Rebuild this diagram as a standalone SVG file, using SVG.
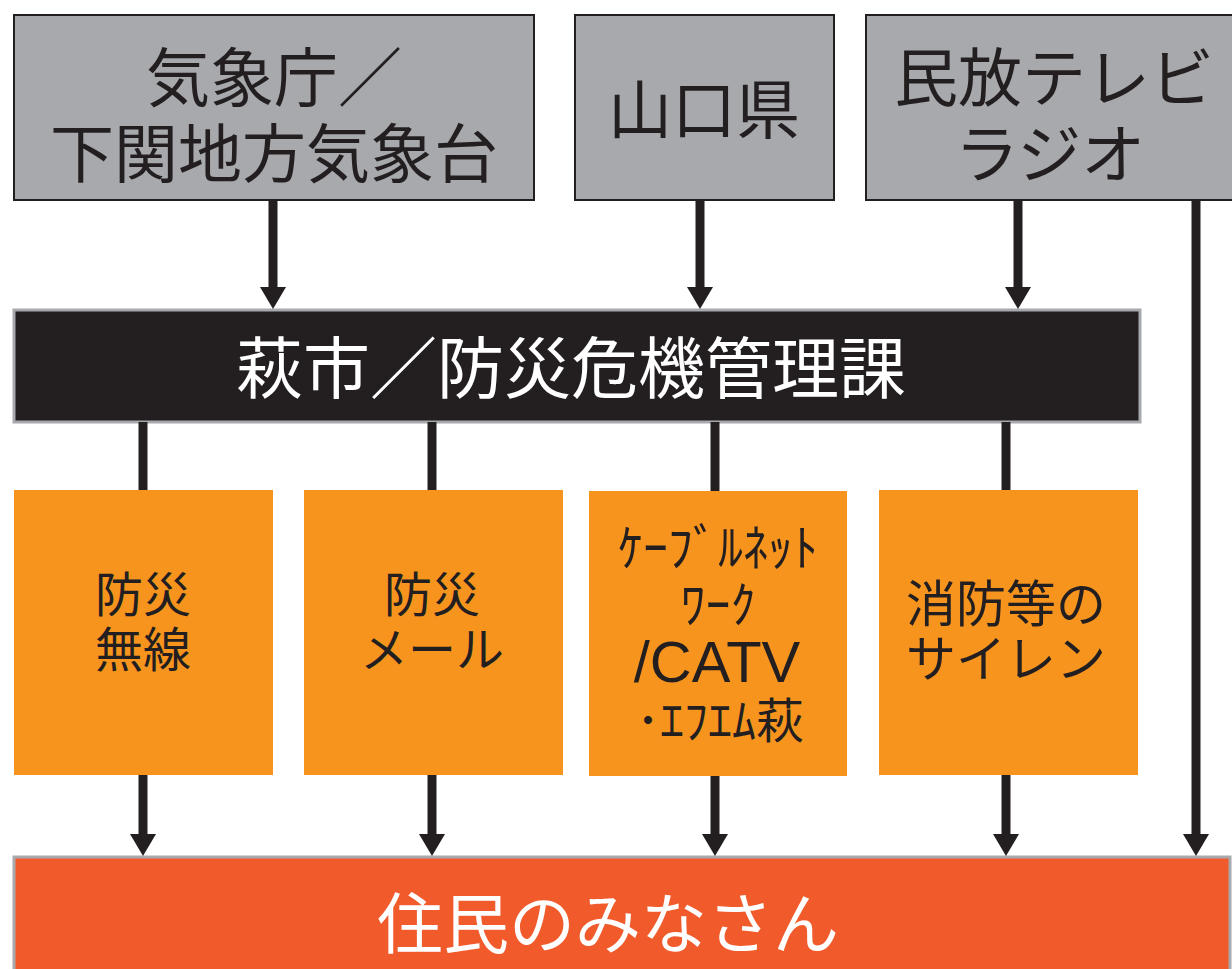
<svg xmlns="http://www.w3.org/2000/svg" width="1232" height="969" viewBox="0 0 1232 969">
<style>
.src{fill:#a7a9ac;stroke:#231f20;stroke-width:2}
.org{fill:#f7941e}
.t{font-family:"Noto Sans CJK JP","Noto Sans",sans-serif;text-anchor:middle}
.dk{fill:#231f20}
.wh{fill:#ffffff}
.ln{stroke:#231f20;stroke-width:9;fill:none}
</style>
<defs>
<marker id="ah" viewBox="0 0 22 26" refX="0" refY="13" markerWidth="22" markerHeight="26" markerUnits="userSpaceOnUse" orient="auto">
<path d="M0,0 L22,13 L0,26 Z" fill="#231f20"/>
</marker>
</defs>
<rect width="1232" height="969" fill="#ffffff"/>
<g id="n-kishocho">
<rect class="src" x="14" y="15" width="520" height="185"/>
<text class="t dk" font-size="64"><tspan x="274" y="101">気象庁／</tspan><tspan x="274" y="177">下関地方気象台</tspan></text>
</g>
<g id="n-yamaguchi">
<rect class="src" x="575" y="15" width="259" height="185"/>
<text class="t dk" x="704" y="133" font-size="64">山口県</text>
</g>
<g id="n-minpo">
<rect class="src" x="866" y="15" width="380" height="185"/>
<text class="t dk" font-size="64"><tspan x="1054" y="101">民放テレビ</tspan><tspan x="1050" y="177">ラジオ</tspan></text>
</g>
<g id="n-hagi">
<rect x="14" y="310" width="1126" height="112" fill="#231f20" stroke="#a7a9ac" stroke-width="3"/>
<text class="t wh" x="571" y="393" font-size="67">萩市／防災危機管理課</text>
</g>
<g id="n-musen">
<rect class="org" x="14" y="490" width="259" height="285"/>
<text class="t dk" font-size="48"><tspan x="143" y="612">防災</tspan><tspan x="143" y="667">無線</tspan></text>
</g>
<g id="n-mail">
<rect class="org" x="304" y="490" width="259" height="285"/>
<text class="t dk" font-size="48"><tspan x="432" y="612">防災</tspan><tspan x="432" y="667">メール</tspan></text>
</g>
<g id="n-catv">
<rect class="org" x="589" y="491" width="258" height="285"/>
<text class="t dk" font-size="50"><tspan x="718" y="566">ｹｰﾌﾞﾙﾈｯﾄ</tspan><tspan x="718" y="623">ﾜｰｸ</tspan><tspan x="717" y="682" font-size="58" font-family="'Liberation Sans',Arial,sans-serif">/CATV</tspan><tspan x="720" y="738" font-size="48">･ｴﾌｴﾑ萩</tspan></text>
</g>
<g id="n-siren">
<rect class="org" x="879" y="490" width="259" height="285"/>
<text class="t dk" font-size="50"><tspan x="1006" y="622">消防等の</tspan><tspan x="1006" y="677">サイレン</tspan></text>
</g>
<g id="n-jumin">
<rect x="14" y="857" width="1216" height="120" fill="#f15a2b" stroke="#a7a9ac" stroke-width="3"/>
<text class="t wh" x="608" y="948" font-size="66">住民のみなさん</text>
</g>
<g id="connectors">
<line class="ln" x1="273" y1="200" x2="273" y2="287" marker-end="url(#ah)"/>
<line class="ln" x1="700" y1="200" x2="700" y2="287" marker-end="url(#ah)"/>
<line class="ln" x1="1018" y1="200" x2="1018" y2="287" marker-end="url(#ah)"/>
<line class="ln" x1="1196" y1="200" x2="1196" y2="834" marker-end="url(#ah)"/>
<line class="ln" x1="143" y1="422" x2="143" y2="490"/>
<line class="ln" x1="432" y1="422" x2="432" y2="490"/>
<line class="ln" x1="715" y1="422" x2="715" y2="491"/>
<line class="ln" x1="1006" y1="422" x2="1006" y2="490"/>
<line class="ln" x1="143" y1="775" x2="143" y2="834" marker-end="url(#ah)"/>
<line class="ln" x1="432" y1="775" x2="432" y2="834" marker-end="url(#ah)"/>
<line class="ln" x1="715" y1="776" x2="715" y2="834" marker-end="url(#ah)"/>
<line class="ln" x1="1006" y1="775" x2="1006" y2="834" marker-end="url(#ah)"/>
</g>
</svg>
